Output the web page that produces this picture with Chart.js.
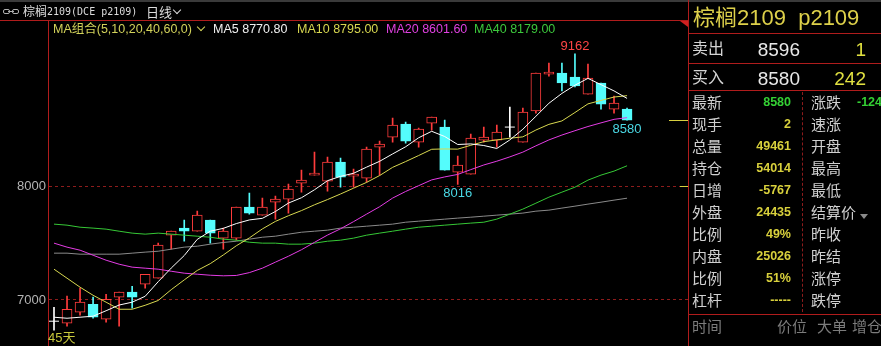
<!DOCTYPE html>
<html><head><meta charset="utf-8">
<script src="https://cdn.jsdelivr.net/npm/chart.js@4.4.1/dist/chart.umd.min.js"></script>
<style>
html,body{margin:0;padding:0;background:#000;width:881px;height:346px;overflow:hidden}
#wrap{position:relative;width:881px;height:346px;background:#000}
canvas{position:absolute;left:0;top:0}
.t{position:absolute;white-space:pre;line-height:1;font-family:"Liberation Sans","Noto Sans CJK SC",sans-serif;transform:translateY(-50%)}
.d{position:absolute}
</style></head>
<body><div id="wrap"><canvas id="c" width="881" height="346"></canvas></div>
<script>
// ---------- data ----------
const days = Array.from({length:45},(_,i)=>i);
const opens  = [6813,6795,6892,6962,6830,7024,7068,7138,7191,7569,7631,7604,7701,7543,7543,7815,7745,7859,7886,8026,8097,8044,8211,8088,8070,8343,8431,8545,8387,8554,8519,8123,8106,8405,8405,8519,8387,8660,8985,8994,8959,8809,8906,8677,8677];
const highs  = [6936,7033,7103,7024,7050,7068,7120,7226,7499,7604,7701,7780,7701,7631,7815,7938,7894,7912,8018,8141,8299,8255,8246,8150,8343,8396,8598,8563,8510,8607,8580,8264,8457,8519,8536,8695,8686,8994,9082,9082,9162,9073,8906,8792,8686];
const lows   = [6734,6769,6865,6839,6804,6769,6927,7103,7191,7446,7516,7604,7499,7446,7525,7754,7745,7710,7763,7947,8097,7956,7991,7991,8035,8097,8387,8378,8343,8492,8141,8016,8106,8387,8343,8431,8387,8642,8967,8836,8871,8809,8677,8642,8580];
const closes = [6813,6918,6980,6848,7006,7068,7024,7226,7481,7604,7604,7745,7587,7604,7815,7763,7815,7886,7974,8053,8114,8211,8079,8106,8325,8369,8536,8396,8501,8607,8141,8185,8422,8431,8475,8519,8651,8994,9003,8906,8880,8950,8721,8730,8580];
const ma5  = [6848,6839,6848,6857,6905,6955,6980,7032,7160,7280,7390,7532,7604,7629,7671,7703,7717,7777,7851,7898,7968,8048,8086,8113,8167,8218,8283,8346,8425,8482,8436,8366,8371,8357,8331,8406,8500,8614,8728,8815,8887,8947,8892,8837,8771];
const ma10 = [7270,7191,7112,7041,6980,6918,6918,6953,6995,7090,7176,7259,7319,7395,7476,7545,7624,7690,7740,7785,7836,7882,7931,7982,8033,8093,8165,8216,8269,8324,8327,8325,8359,8391,8406,8421,8433,8493,8543,8573,8647,8723,8753,8783,8795];
const ma20 = [7499,7464,7437,7393,7349,7314,7288,7279,7270,7252,7235,7226,7217,7212,7215,7240,7279,7332,7384,7441,7506,7570,7625,7688,7754,7819,7895,7953,8004,8055,8081,8103,8145,8186,8219,8257,8299,8354,8406,8449,8487,8524,8556,8587,8602];
const ma40 = [7666,7657,7639,7631,7622,7604,7587,7578,7587,7578,7569,7560,7551,7534,7525,7507,7499,7499,7490,7490,7499,7516,7525,7543,7569,7587,7604,7622,7639,7648,7657,7666,7675,7683,7710,7754,7798,7850,7903,7947,7991,8053,8097,8132,8179];
const ma60 = [7411,7411,7402,7402,7402,7402,7411,7420,7428,7446,7464,7472,7490,7505,7516,7534,7551,7560,7578,7595,7604,7613,7631,7639,7648,7657,7666,7683,7692,7701,7710,7719,7727,7736,7745,7754,7763,7780,7789,7807,7824,7842,7859,7877,7894];
const yTicks = [7000, 8000];
const markedLows = [31, 44];
const edgeMarks = [8580, 8004];
const maLegend = [["MA5 8770.80","#f0f0f0"],["MA10 8795.00","#d8d850"],["MA20 8601.60","#e040e0"],["MA40 8179.00","#3cc83c"]];
const quoteTop = [["卖出","8596","1"],["买入","8580","242"]];
const leftRows = [["最新","8580"],["现手","2"],["总量","49461"],["持仓","54014"],["日增","-5767"],["外盘","24435"],["比例","49%"],["内盘","25026"],["比例","51%"],["杠杆","-----"]];
const rightRows = [["涨跌","-124"],["速涨",""],["开盘",""],["最高",""],["最低",""],["结算价",""],["昨收",""],["昨结",""],["涨停",""],["跌停",""]];
const footHeads = ["时间","价位","大单","增仓"];

// ---------- colours ----------
const RED='#ff3c3c', CYAN='#54fcfc', WHITE='#ffffff';
const kind = days.map(i => closes[i]>opens[i] ? 'up' : (closes[i]<opens[i] ? 'down' : 'doji'));
const candleCol = kind.map(k => k==='up'?RED:(k==='down'?CYAN:WHITE));

const wickData = days.map(i=>({x:i,y:[lows[i],highs[i]]}));
const bodyData = days.map(i=>kind[i]==='doji'?{x:i,y:null}:{x:i,y:[opens[i],closes[i]]});
const dojiData = days.map(i=>kind[i]==='doji'?{x:i,y:opens[i]}:{x:i,y:null});
const line = (arr,col,order)=>({type:'line',data:days.map(i=>({x:i,y:arr[i]})),borderColor:col,borderWidth:1,pointRadius:0,tension:0,order:order,fill:false});

const annot = {
  id:'annot',
  afterDatasetsDraw(chart){
    const {ctx, scales:{x,y}, chartArea} = chart;
    let hi=0;
    highs.forEach((v,i)=>{ if(v>highs[hi]) hi=i; });
    ctx.save();
    ctx.font='13px "Liberation Sans"';
    ctx.textAlign='center';
    ctx.fillStyle='#ff4646'; ctx.textBaseline='bottom';
    ctx.fillText(String(highs[hi]), x.getPixelForValue(hi), y.getPixelForValue(highs[hi])-1);
    ctx.fillStyle='#4ad8e4'; ctx.textBaseline='top';
    markedLows.forEach(i=>ctx.fillText(String(lows[i]), x.getPixelForValue(i), y.getPixelForValue(lows[i])+3));
    ctx.strokeStyle='#d8d040'; ctx.lineWidth=1;
    edgeMarks.forEach((v,k)=>{
      const py=Math.round(y.getPixelForValue(v))+0.5;
      ctx.beginPath(); ctx.moveTo(chartArea.right-(k===0?19:8),py); ctx.lineTo(chartArea.right,py); ctx.stroke();
    });
    ctx.restore();
  }
};

new Chart(document.getElementById('c'),{
  type:'bar',
  data:{datasets:[
    line(ma5,'#ffffff',0),
    line(ma10,'#d8d850',0),
    line(ma20,'#e43ce4',0),
    line(ma40,'#36c836',0),
    line(ma60,'#8a8a8a',0),
    {type:'line',data:dojiData,showLine:false,pointStyle:'line',pointRadius:5,borderColor:WHITE,borderWidth:1,order:1},
    {type:'bar',data:bodyData,grouped:false,barThickness:10,borderWidth:1,borderSkipped:false,
      borderColor:days.map(i=>candleCol[i]),backgroundColor:days.map(i=>kind[i]==='up'?'#000000':CYAN),order:2},
    {type:'bar',data:wickData,grouped:false,barThickness:1,borderWidth:0,
      backgroundColor:days.map(i=>candleCol[i]),order:3}
  ]},
  options:{
    responsive:false, animation:false, events:[], devicePixelRatio:1,
    layout:{autoPadding:false,padding:{top:20,right:193,bottom:0,left:0}},
    plugins:{legend:{display:false},tooltip:{enabled:false}},
    scales:{
      x:{type:'linear',display:false,min:-0.384,max:48.68,offset:false},
      y:{min:6690,max:9460,position:'left',
        afterFit(s){ s.width=49; },
        afterBuildTicks(s){ s.ticks=yTicks.map(v=>({value:v})); },
        ticks:{color:'#b4b4b4',font:{size:13,family:'Liberation Sans'},padding:3,autoSkip:false,callback:v=>String(v)},
        grid:{color:'#8e1c1c',lineWidth:1,drawTicks:false},
        border:{display:false,dash:[3,3]}
      }
    }
  },
  plugins:[annot]
});

// ---------- decorations & text ----------
const W=document.getElementById('wrap');
function box(x,y,w,h,css){const d=document.createElement('div');d.className='d';d.style.cssText=`left:${x}px;top:${y}px;width:${w}px;height:${h}px;`+(css||'');W.appendChild(d);return d;}
function txt(s,x,y,size,col,o){o=o||{};const d=document.createElement('div');d.className='t';d.textContent=s;
  d.style.fontSize=size+'px';d.style.color=col;d.style.top=y+'px';
  if(o.right){d.style.right=(881-x)+'px';}else{d.style.left=x+'px';}
  if(o.bold)d.style.fontWeight='bold';if(o.family)d.style.fontFamily=o.family;W.appendChild(d);return d;}
const LR='#b01c1c';
box(0,0,881,2,'background:#3a3a3a');
box(0,20,688,1,'background:'+LR);
box(48,20,1,326,'background:'+LR);
box(688,0,1,346,'background:'+LR);
box(689,33,192,1,'background:'+LR);
box(689,63,192,1,'background:'+LR);
box(689,90,192,1,'background:'+LR);
box(689,314,192,1,'background:'+LR);
box(802,92,0,220,'border-left:1px dashed #8e1c1c');
box(680,21,0,0,'border-top:6px solid #d02020;border-left:8px solid transparent');
// icon
box(3,9,7,5,'border:1px solid #b0b0b0;border-radius:2px;box-sizing:border-box');
box(12,9,7,5,'border:1px solid #b0b0b0;border-radius:2px;box-sizing:border-box');
box(8,11,6,1,'background:#b0b0b0');
// title bar
txt('棕榈',23,12,12,'#dcdcdc');
txt('2109(DCE p2109)',47,12,10,'#dcdcdc',{family:'"DejaVu Sans Mono",monospace'});
txt('日线',146,12,13,'#dcdcdc');
box(174,7,5,5,'border-right:1.5px solid #dcdcdc;border-bottom:1.5px solid #dcdcdc;transform:rotate(45deg)');
// MA legend
txt('MA组合(5,10,20,40,60,0)',53,29,12.5,'#d2d25a');
box(198,24,5,5,'border-right:1.5px solid #d2d25a;border-bottom:1.5px solid #d2d25a;transform:rotate(45deg)');
const maX=[213,297,386,474];
maLegend.forEach((m,k)=>txt(m[0],maX[k],29,12.5,m[1]));
txt('45天',48,337,13,'#c8c83c');
// right panel
txt('棕榈2109  p2109',693,18,22,'#ddd04a');
quoteTop.forEach((r,k)=>{const y=49+k*29;txt(r[0],692,y,16,'#d4d4d4');txt(r[1],800,y,19,'#e8e8e8',{right:true});txt(r[2],866,y,19,'#e0e040',{right:true});});
leftRows.forEach((r,k)=>{const y=102+k*22;txt(r[0],692,y,15,'#d0d0d0');txt(r[1],791,y,12.5,k===0?'#34d034':'#d8d03c',{right:true,bold:true});});
rightRows.forEach((r,k)=>{const y=102+k*22;txt(r[0],811,y,15,'#d0d0d0');if(r[1])txt(r[1],857,y,12.5,'#34d034',{bold:true});});
box(860,214,0,0,'border-top:5px solid #8a8a8a;border-left:4px solid transparent;border-right:4px solid transparent');
const fx=[692,777,817,852];
footHeads.forEach((s,k)=>txt(s,fx[k],326,15,'#7c7c7c'));
</script></body></html>
